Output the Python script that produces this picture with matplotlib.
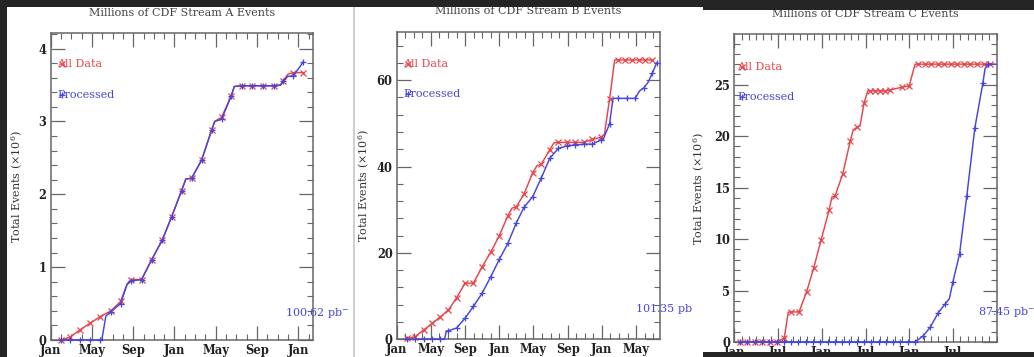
import matplotlib
matplotlib.use("Agg")
import matplotlib.pyplot as plt
from matplotlib.patches import Rectangle
from matplotlib.transforms import Bbox, TransformedBbox
from matplotlib.ticker import FixedLocator, MultipleLocator

plt.rcParams['font.family'] = ['DejaVu Serif']
plt.rcParams['mathtext.fontset'] = 'dejavuserif'

# ---------------- data (x in months since Jan of first year) ----------------
# Stream A
A_all_x = [1.0, 1.87, 2.84, 3.81, 4.78, 5.84, 6.78, 7.4, 7.78, 8.81, 9.78, 10.81, 11.72, 12.69, 13.1,
           13.66, 14.63, 15.6, 15.9, 16.57, 17.5, 17.8, 18.5, 19.5, 20.6, 21.6, 22.3, 22.5, 23.0, 23.5, 24.5]
A_all_y = [0.0, 0.04, 0.14, 0.23, 0.32, 0.40, 0.53, 0.77, 0.83, 0.83, 1.10, 1.37, 1.69, 2.05, 2.21,
           2.22, 2.47, 2.88, 3.00, 3.06, 3.35, 3.48, 3.49, 3.49, 3.49, 3.49, 3.50, 3.55, 3.65, 3.67, 3.67]
A_all_corner = [7, 14, 18, 21, 26, 28]
A_proc_x = [1.0, 1.87, 2.84, 3.81, 4.78, 4.95, 5.35, 5.84, 6.78, 7.4, 7.78, 8.81, 9.78, 10.81, 11.72,
            12.69, 13.1, 13.66, 14.63, 15.6, 15.9, 16.57, 17.5, 17.8, 18.5, 19.5, 20.6, 21.6, 22.3, 22.5,
            23.0, 23.5, 24.5]
A_proc_y = [0.0, 0.0, 0.0, 0.0, 0.0, 0.0, 0.33, 0.39, 0.50, 0.76, 0.81, 0.83, 1.10, 1.37, 1.69,
            2.05, 2.21, 2.22, 2.47, 2.88, 3.00, 3.03, 3.35, 3.48, 3.49, 3.49, 3.49, 3.49, 3.50, 3.55,
            3.62, 3.62, 3.82]
A_proc_corner = [5, 6, 9, 16, 20, 23, 28, 30]

# Stream B
B_all_x = [1.17, 2.14, 3.16, 4.17, 5.1, 6.05, 7.0, 8.0, 8.97, 10.0, 11.0, 11.98, 13.0, 13.5, 13.97,
           14.9, 15.9, 16.4, 16.9, 17.9, 18.4, 18.9, 19.9, 20.9, 21.9, 22.9, 23.9, 24.3, 24.9, 25.5,
           25.9, 26.7, 27.5, 28.3, 29.1, 29.9]
B_all_y = [0.2, 0.6, 2.2, 3.7, 5.2, 6.8, 9.6, 13.0, 13.0, 16.8, 20.2, 23.9, 28.6, 30.4, 30.6,
           33.7, 38.5, 40.2, 40.5, 43.9, 45.5, 45.6, 45.6, 45.6, 45.6, 46.3, 46.8, 47.5, 55.6, 64.7,
           64.7, 64.7, 64.7, 64.7, 64.7, 64.7]
B_all_corner = [13, 17, 20, 27, 29]
B_proc_x = [1.17, 2.14, 3.16, 4.17, 5.1, 5.6, 5.8, 6.05, 7.0, 8.0, 8.97, 10.0, 11.0, 12.0, 13.0,
            14.0, 14.9, 15.9, 16.9, 17.9, 18.9, 19.9, 20.9, 21.9, 22.9, 23.9, 24.2, 24.9, 25.3, 25.9,
            26.9, 27.9, 28.4, 28.9, 29.4, 29.9, 30.4]
B_proc_y = [0.0, 0.0, 0.0, 0.0, 0.0, 0.0, 1.9, 2.0, 2.6, 4.9, 7.6, 10.7, 14.5, 18.5, 22.2,
            27.0, 30.6, 33.0, 37.3, 41.9, 44.2, 44.8, 45.0, 45.2, 45.2, 46.2, 46.5, 49.9, 55.8, 55.8,
            55.8, 55.8, 57.5, 58.2, 59.5, 61.6, 64.0]
B_proc_corner = [5, 6, 26, 28, 32, 34]

# Stream C
C_all_x = [0.8, 1.8, 2.8, 3.8, 4.9, 5.9, 6.86, 7.4, 7.78, 8.88, 9.93, 10.9, 11.9, 13.0, 13.4,
           13.8, 14.87, 15.9, 16.3, 16.9, 17.25, 17.8, 18.3, 18.6, 19.3, 20.0, 20.7, 21.4, 22.96, 24.0,
           24.8, 25.2, 26.1, 27.0, 27.9, 28.8, 29.7, 30.6, 31.5, 32.4, 33.3, 34.2, 35.1]
C_all_y = [0.0, 0.0, 0.0, 0.0, 0.0, 0.0, 0.4, 2.9, 2.92, 2.92, 4.9, 7.2, 9.9, 12.8, 14.1,
           14.15, 16.3, 19.5, 20.6, 20.9, 21.0, 23.2, 24.4, 24.4, 24.4, 24.4, 24.4, 24.5, 24.75, 24.9,
           27.0, 27.0, 27.0, 27.0, 27.0, 27.0, 27.0, 27.0, 27.0, 27.0, 27.0, 27.0, 27.0]
C_all_corner = [7, 14, 18, 20, 22, 30]
C_proc_x = [0.8, 1.8, 2.8, 3.8, 4.8, 5.8, 6.8, 7.8, 8.8, 9.8, 10.8, 11.8, 12.8, 13.8, 14.8,
            15.8, 16.8, 17.8, 18.8, 19.8, 20.8, 21.8, 22.8, 23.8, 24.8, 25.9, 26.9, 28.0, 28.9, 29.5,
            30.0, 30.9, 31.9, 33.0, 34.1, 34.4, 34.8, 35.8]
C_proc_y = [0.0, 0.0, 0.0, 0.0, 0.0, 0.0, 0.0, 0.0, 0.0, 0.0, 0.0, 0.0, 0.0, 0.0, 0.0,
            0.0, 0.0, 0.0, 0.0, 0.0, 0.0, 0.0, 0.0, 0.0, 0.0, 0.58, 1.46, 2.86, 3.67, 4.2,
            5.87, 8.54, 14.2, 20.8, 25.15, 26.55, 27.0, 27.0]
C_proc_corner = [29, 35, 37]

titles = ["Millions of CDF Stream A Events", "Millions of CDF Stream B Events",
          "Millions of CDF Stream C Events"]
lumis = ["100.62 pb$^{-1}$", "101.35 pb$^{-1}$", "87.45 pb$^{-1}$"]
labels_A = ["Jan", "May", "Sep", "Jan", "May", "Sep", "Jan"]
labels_B = ["Jan", "May", "Sep", "Jan", "May", "Sep", "Jan", "May"]
labels_C = ["Jan", "Jul", "Jan", "Jul", "Jan", "Jul"]
ylabel = "Total Events (\u00d710$^{6}$)"

RED = '#e6454b'
BLUE = '#4545e0'
DARK = '#252525'
W, H = 1034, 357

fig = plt.figure(figsize=(W / 100, H / 100), dpi=100, facecolor='white')


def fx(px):
    return px / W


def fy(py):
    return 1 - py / H


panels = [
    dict(box=(50.7, 33.3, 312.7, 340.0), xlim=25.4, ylim=4.21, xstep=4, xlabels=labels_A,
         ymaj=1, ymin=0.2, series=((A_all_x, A_all_y, A_all_corner), (A_proc_x, A_proc_y, A_proc_corner)),
         title_xy=(181.7, 12.7), leg_y=(64.3, 95.0), leg_x=57.0, lum_xy=(285.0, 313.0), clipx=(7, 350),
         ylab_x=15.0),
    dict(box=(396.7, 32.3, 660.0, 339.3), xlim=30.8, ylim=71.1, xstep=4, xlabels=labels_B,
         ymaj=20, ymin=4, series=((B_all_x, B_all_y, B_all_corner), (B_proc_x, B_proc_y, B_proc_corner)),
         title_xy=(528.3, 10.5), leg_y=(64.0, 94.0), leg_x=403.0, lum_xy=(635.0, 309.0), clipx=(355, 693),
         ylab_x=361.7),
    dict(box=(734.3, 34.3, 996.7, 342.0), xlim=36.0, ylim=29.9, xstep=6, xlabels=labels_C,
         ymaj=5, ymin=1, series=((C_all_x, C_all_y, C_all_corner), (C_proc_x, C_proc_y, C_proc_corner)),
         title_xy=(865.0, 14.3), leg_y=(67.0, 97.0), leg_x=737.0, lum_xy=(978.0, 312.0), clipx=(703, 1034),
         ylab_x=697.0),
]

for i, p in enumerate(panels):
    l, t, r, b = p['box']
    ax = fig.add_axes([fx(l), fy(b), fx(r - l), (b - t) / H])
    ax.set_facecolor('white')
    for (sx, sy, corners), col, mk in zip(p['series'], (RED, BLUE), ('x', '+')):
        marks = [k for k in range(len(sx)) if k not in corners]
        ax.plot(sx, sy, color=col, lw=1.05, marker=mk, markevery=marks, ms=5 if mk == '+' else 4.5,
                mew=0.9, clip_on=False, zorder=3)
    ax.set_xlim(0, p['xlim'])
    ax.set_ylim(0, p['ylim'])
    nlab = len(p['xlabels'])
    ax.xaxis.set_major_locator(FixedLocator([k * p['xstep'] for k in range(nlab)]))
    ax.set_xticklabels(p['xlabels'])
    ax.xaxis.set_minor_locator(MultipleLocator(1))
    ax.yaxis.set_major_locator(MultipleLocator(p['ymaj']))
    ax.yaxis.set_minor_locator(MultipleLocator(p['ymin']))
    ax.tick_params(which='both', direction='in', top=True, right=True, color='#666666',
                   labelcolor='#222222', labelsize=8.3)
    ax.tick_params(which='major', length=10, width=0.9, pad=3)
    ax.tick_params(which='minor', length=4.5, width=0.8)
    for lab in ax.get_xticklabels() + ax.get_yticklabels():
        lab.set_fontweight('bold')
    for s in ax.spines.values():
        s.set_color('#666666')
        s.set_linewidth(1.1)
    # y label: coordinate is the right edge of the rotated text; centre it at ylab_x
    ax.set_ylabel(ylabel, fontsize=8, color='#333333')
    ax.yaxis.set_label_coords((p['ylab_x'] + 10 - l) / (r - l), 0.5)

    fig.text(fx(p['title_xy'][0]), fy(p['title_xy'][1]), titles[i], ha='center', va='center',
             fontsize=8, color='#444444')

    # in-plot labels
    for yy, txt, col, mk in zip(p['leg_y'], ("All Data", "Processed"), (RED, BLUE), ('x', '+')):
        fig.text(fx(p['leg_x']), fy(yy), txt, ha='left', va='center', fontsize=8, color=col)
        fig.add_artist(plt.Line2D([fx(p['leg_x'] + 4.5)], [fy(yy)], marker=mk, color=col,
                                  ms=5 if mk == '+' else 4.5, mew=0.9, transform=fig.transFigure))

    lt = fig.text(fx(p['lum_xy'][0]), fy(p['lum_xy'][1]), lumis[i], ha='left', va='center',
                  fontsize=8, color=BLUE)
    cx0, cx1 = p['clipx']
    lt.set_clip_box(TransformedBbox(Bbox.from_extents(fx(cx0), 0, fx(cx1), 1), fig.transFigure))
    lt.set_clip_on(True)

# dark screenshot bands and separator (drawn on top)
overlays = [
    ((0, 0), W, 7, DARK),
    ((703, 7), W - 703, 3, DARK),
    ((0, 0), 7, H, DARK),
    ((703, 352), W - 703, 5, DARK),
    ((353, 7), 2, H - 7, '#d0d0d0'),
]
for (x0, y0), w, h, c in overlays:
    fig.add_artist(Rectangle((fx(x0), fy(y0 + h)), w / W, h / H, transform=fig.transFigure,
                             facecolor=c, edgecolor='none', zorder=10))

fig.savefig("out.png", dpi=100, facecolor=fig.get_facecolor())
